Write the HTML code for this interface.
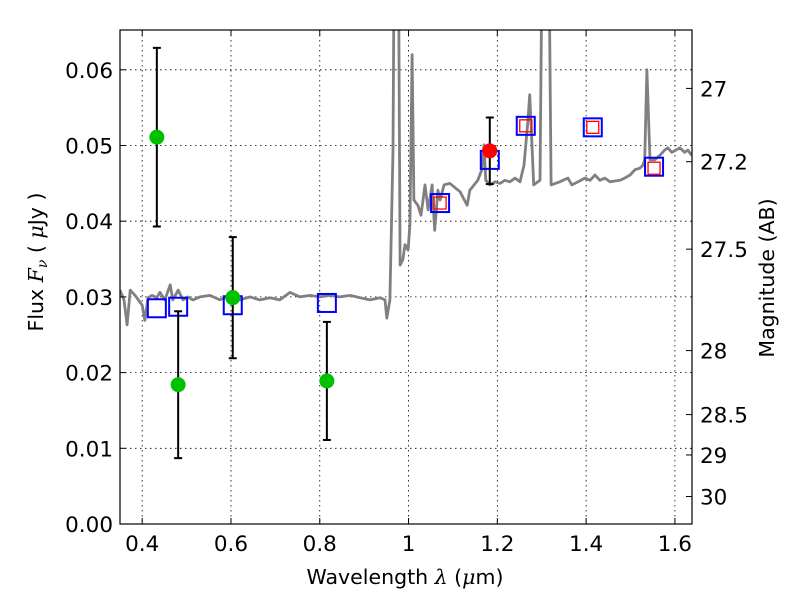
<!DOCTYPE html>
<html><head><meta charset="utf-8"><style>
html,body{margin:0;padding:0;background:#fff}
svg{display:block;font-family:"DejaVu Sans","Liberation Sans",sans-serif}
</style></head><body>
<svg id="chart" width="800" height="600">
<defs><clipPath id="clip"><rect x="120" y="30" width="572" height="494"/></clipPath></defs>
<rect width="800" height="600" fill="#fff"/>
<g id="grid"></g>
<g id="plot" clip-path="url(#clip)"></g>
<rect x="120" y="30" width="572" height="494" fill="none" stroke="#000" stroke-width="1.2"/>
<g id="axes"></g>
<text x="405" y="584" font-size="20.5" text-anchor="middle">Wavelength  <tspan font-style="italic" font-family="DejaVu Serif,serif">λ</tspan> (<tspan font-style="italic" font-family="DejaVu Serif,serif">μ</tspan>m)</text>
<text transform="translate(43,262) rotate(-90)" font-size="20.5" text-anchor="middle">Flux  <tspan font-style="italic" font-family="DejaVu Serif,serif">F<tspan font-size="14" dy="4">ν</tspan></tspan><tspan dy="-4">  (  </tspan><tspan font-style="italic" font-family="DejaVu Serif,serif">μ</tspan>Jy )</text>
<text transform="translate(774,278) rotate(-90)" font-size="20.5" text-anchor="middle">Magnitude (AB)</text>
</svg>
<script>
const specLam=[0.350,0.359,0.366,0.373,0.384,0.400,0.406,0.413,0.422,0.433,0.440,0.451,0.463,0.469,0.481,0.492,0.503,0.514,0.530,0.553,0.575,0.598,0.609,0.620,0.643,0.665,0.688,0.710,0.733,0.755,0.778,0.800,0.823,0.845,0.868,0.891,0.913,0.936,0.947,0.951,0.958,0.965,0.969,0.976,0.981,0.987,0.992,0.999,1.003,1.008,1.012,1.021,1.028,1.037,1.044,1.053,1.059,1.066,1.071,1.080,1.093,1.116,1.132,1.138,1.156,1.165,1.170,1.174,1.183,1.195,1.206,1.217,1.228,1.240,1.251,1.260,1.269,1.273,1.276,1.282,1.296,1.303,1.314,1.321,1.341,1.348,1.359,1.368,1.382,1.397,1.409,1.420,1.431,1.442,1.454,1.476,1.487,1.499,1.510,1.521,1.528,1.532,1.537,1.544,1.555,1.566,1.577,1.584,1.593,1.602,1.611,1.622,1.629,1.638];
const specFlux=[0.0309,0.0296,0.0263,0.0309,0.0302,0.0289,0.0269,0.0299,0.0302,0.0299,0.0306,0.0296,0.0316,0.0296,0.0309,0.0296,0.0300,0.0296,0.0300,0.0302,0.0296,0.0302,0.0306,0.0296,0.0300,0.0296,0.0299,0.0296,0.0306,0.0300,0.0302,0.0300,0.0302,0.0300,0.0302,0.0299,0.0296,0.0299,0.0296,0.0272,0.0296,0.0494,0.0900,0.0900,0.0342,0.0349,0.0369,0.0362,0.0395,0.0620,0.0428,0.0421,0.0408,0.0448,0.0415,0.0448,0.0388,0.0441,0.0428,0.0448,0.0450,0.0439,0.0421,0.0441,0.0454,0.0468,0.0501,0.0454,0.0448,0.0452,0.0450,0.0454,0.0452,0.0457,0.0452,0.0474,0.0534,0.0567,0.0527,0.0448,0.0454,0.0900,0.0900,0.0448,0.0452,0.0454,0.0457,0.0448,0.0452,0.0457,0.0454,0.0461,0.0454,0.0457,0.0452,0.0454,0.0457,0.0461,0.0468,0.0470,0.0474,0.0481,0.0600,0.0481,0.0481,0.0487,0.0494,0.0497,0.0491,0.0494,0.0497,0.0491,0.0494,0.0487];
const greenLam=[0.433,0.481,0.604,0.816];
const greenFlux=[0.0511,0.0184,0.0299,0.0189];
const greenErr=[0.0118,0.0097,0.0080,0.0078];
const redLam=[1.183];
const redFlux=[0.0493];
const redErr=[0.0044];
const blueLam=[0.433,0.481,0.604,0.816,1.071,1.183,1.264,1.415,1.553];
const blueFlux=[0.0285,0.0287,0.0289,0.0292,0.0424,0.0481,0.0526,0.0524,0.0472];
const redSqLam=[1.071,1.264,1.415,1.553];
const redSqFlux=[0.0424,0.0526,0.0524,0.0470];
const xTicks=[0.4,0.6,0.8,1,1.2,1.4,1.6];
const xTickLabels=["0.4","0.6","0.8","1","1.2","1.4","1.6"];
const yTicks=[0,0.01,0.02,0.03,0.04,0.05,0.06];
const yTickLabels=["0.00","0.01","0.02","0.03","0.04","0.05","0.06"];
const magTicks=[27,27.2,27.5,28,28.5,29,30];
const magTickLabels=["27","27.2","27.5","28","28.5","29","30"];

const X0=120,X1=692,Y0=524,Y1=30,LMIN=0.35,LMAX=1.6385,FMIN=0,FMAX=0.06526;
const sx=l=>X0+(l-LMIN)/(LMAX-LMIN)*(X1-X0);
const sy=f=>Y0-(f-FMIN)/(FMAX-FMIN)*(Y0-Y1);
const magToFlux=m=>Math.pow(10,(23.9-m)/2.5);
const NS="http://www.w3.org/2000/svg";
function mk(tag,attrs,parent){const e=document.createElementNS(NS,tag);for(const k in attrs)e.setAttribute(k,attrs[k]);parent.appendChild(e);return e;}
const grid=document.getElementById('grid'),plot=document.getElementById('plot'),axes=document.getElementById('axes');
const FS=21.5;
xTicks.forEach((t,i)=>{const x=sx(t);
 let g=mk('line',{x1:x,x2:x,y1:Y1,y2:Y0,stroke:'#000','stroke-width':0.8,'stroke-dasharray':'1.5,3.5'},grid);
 
 
 let a=mk('line',{x1:x,x2:x,y1:Y0,y2:Y0-6,stroke:'#000'},axes);
 
 
 let b=mk('line',{x1:x,x2:x,y1:Y1,y2:Y1+6,stroke:'#000'},axes);
 
 
 let tx=mk('text',{x:x,y:Y0+27,'font-size':FS,'text-anchor':'middle'},axes);tx.textContent=xTickLabels[i];
 
 
});
yTicks.forEach((t,i)=>{const y=sy(t);
 let g=mk('line',{x1:X0,x2:X1,y1:y,y2:y,stroke:'#000','stroke-width':0.8,'stroke-dasharray':'1.5,3.5'},grid);
 
 
 let a=mk('line',{x1:X0,x2:X0+6,y1:y,y2:y,stroke:'#000'},axes);
 
 
 let tx=mk('text',{x:X0-7,y:y+8,'font-size':FS,'text-anchor':'end'},axes);tx.textContent=yTickLabels[i];
 
 
});
magTicks.forEach((m,i)=>{const y=sy(magToFlux(m));
 let a=mk('line',{x1:X1,x2:X1-6,y1:y,y2:y,stroke:'#000'},axes);
 
 
 let tx=mk('text',{x:X1+8,y:y+8,'font-size':FS},axes);tx.textContent=magTickLabels[i];
 
 
});

let pts=specLam.map((l,i)=>sx(l).toFixed(1)+','+sy(specFlux[i]).toFixed(1)).join(' ');
let sp=mk('polyline',{points:pts,fill:'none',stroke:'#808080','stroke-width':2.8,'stroke-linejoin':'round'},plot);



function errbar(l,f,e,name){const x=sx(l),yt=sy(f+e),yb=sy(f-e);
 let g=mk('g',{stroke:'#000','stroke-width':2},plot);
 
 
 mk('line',{x1:x,x2:x,y1:yt,y2:yb},g);mk('line',{x1:x-4,x2:x+4,y1:yt,y2:yt},g);mk('line',{x1:x-4,x2:x+4,y1:yb,y2:yb},g);}
blueLam.forEach((l,i)=>{const x=sx(l),y=sy(blueFlux[i]);
 let r=mk('rect',{x:x-9,y:y-9,width:18,height:18,fill:'none',stroke:'#0000ff','stroke-width':2},plot);
 
 
});
redSqLam.forEach((l,i)=>{const x=sx(l),y=sy(redSqFlux[i]);
 let r=mk('rect',{x:x-6,y:y-6,width:12,height:12,fill:'none',stroke:'#ff0000','stroke-width':1.3},plot);
 
 
});
greenLam.forEach((l,i)=>{errbar(l,greenFlux[i],greenErr[i],'green-errorbar');
 let c=mk('circle',{cx:sx(l),cy:sy(greenFlux[i]),r:7.5,fill:'#00c000'},plot);
 
 
});
redLam.forEach((l,i)=>{errbar(l,redFlux[i],redErr[i],'red-errorbar');
 let c=mk('circle',{cx:sx(l),cy:sy(redFlux[i]),r:7.5,fill:'#ff0000'},plot);
 
 
});
</script>
</body></html>
